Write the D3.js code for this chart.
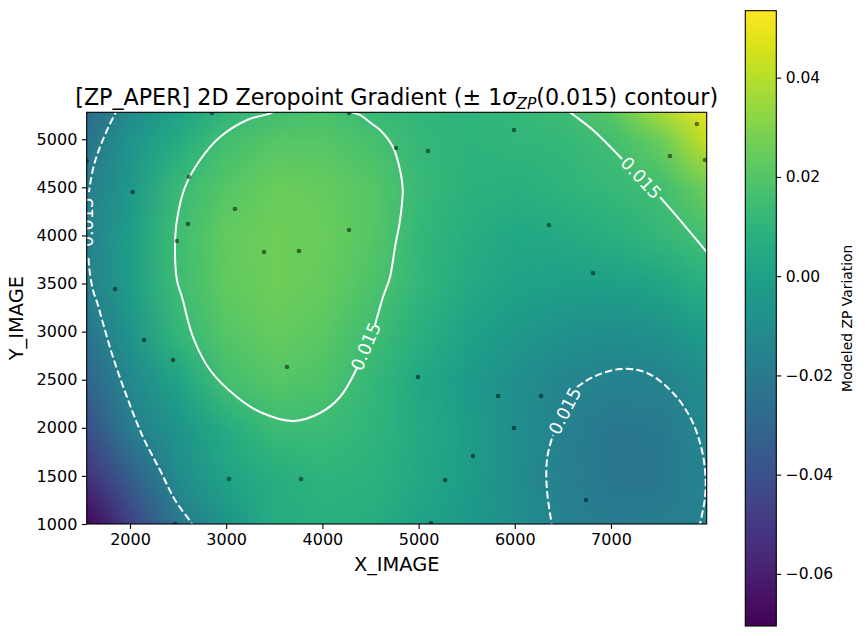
<!DOCTYPE html>
<html><head><meta charset="utf-8">
<script src="https://cdn.jsdelivr.net/npm/d3@7"></script>
<style>body{margin:0;background:#fff;} svg{display:block;font-family:"DejaVu Sans",sans-serif;}</style>
</head><body><svg id="chart" width="865" height="636"></svg>
<script>
// ---------------- data ----------------
const gridX = [1500,2000,2500,3000,3500,4000,4500,5000,5500,6000,6500,7000,7500,8000];
const gridY = [1000,1500,2000,2500,3000,3500,4000,4500,5000,5500];
// modeled ZP variation, one row per gridY value (bottom to top)
const zRow1000 = [-0.0732,-0.046,-0.020,-0.006,0.0065,0.008,0.007,0.001,-0.004,-0.009,-0.0165,-0.019,-0.018,-0.0145];
const zRow1500 = [-0.0541,-0.033,-0.010,0.002,0.007,0.010,0.009,0.004,-0.002,-0.010,-0.017,-0.021,-0.021,-0.0145];
const zRow2000 = [-0.0424,-0.018,-0.006,0.006,0.014,0.0142,0.0105,0.005,-0.002,-0.009,-0.0165,-0.021,-0.020,-0.012];
const zRow2500 = [-0.032,-0.012,0.002,0.0165,0.021,0.019,0.012,0.004,-0.003,-0.009,-0.014,-0.016,-0.0155,-0.009];
const zRow3000 = [-0.0238,-0.006,0.012,0.021,0.024,0.022,0.0155,0.008,0.001,-0.004,-0.008,-0.0095,-0.008,-0.002];
const zRow3500 = [-0.0182,-0.001,0.015,0.023,0.026,0.024,0.019,0.011,0.005,0.001,-0.001,-0.001,0.002,0.008];
const zRow4000 = [-0.0171,-0.001,0.0155,0.0235,0.026,0.025,0.021,0.012,0.007,0.004,0.005,0.008,0.012,0.0165];
const zRow4500 = [-0.019,-0.004,0.0135,0.021,0.025,0.024,0.021,0.013,0.009,0.008,0.010,0.0125,0.0155,0.026];
const zRow5000 = [-0.0249,-0.006,0.006,0.0165,0.021,0.021,0.0175,0.012,0.010,0.011,0.012,0.016,0.025,0.043];
const zRow5500 = [-0.0318,-0.014,-0.002,0.006,0.012,0.0165,0.010,0.010,0.010,0.0125,0.0165,0.025,0.045,0.078];
const zRows = [zRow1000,zRow1500,zRow2000,zRow2500,zRow3000,zRow3500,zRow4000,zRow4500,zRow5000,zRow5500];

const pointsX = [2852,4277,5991,7893,7977,7613,2028,2613,1550,3091,2603,2486,3393,3757,4277,5098,4765,6355,6813,1845,2146,2447,3632,3029,3778,2468,4994,5826,6273,5992,5566,5275,6740,5129];
const pointsY = [5272,5272,5096,5158,4784,4825,4451,4607,4773,4274,4119,3942,3827,3838,4056,4877,4909,4108,3609,3443,2913,2705,2632,1468,1468,1000,2528,2331,2331,1998,1707,1457,1249,1010];

// contour traces (level ±0.015), in data units
const contourNegLeftTop = [[1875,5324],[1771,5116],[1688,4919],[1626,4732],[1584,4524],[1574,4451]];
const contourNegLeftBottom = [[1569,3765],[1579,3640],[1615,3432],[1667,3277],[1719,3089],[1823,2736],[1969,2320],[2135,1904],[2312,1561],[2468,1249],[2645,1000],[2676,938]];
const contourPosLoopRight = [[4277,5345],[4308,5283],[4391,5252],[4516,5158],[4599,5096],[4734,4919],[4807,4680],[4835,4472],[4807,4160],[4755,3879],[4703,3568],[4630,3360],[4547,3069]];
const contourPosLoopLeft = [[3539,5345],[3487,5283],[3217,5200],[2936,5023],[2728,4784],[2572,4503],[2488,4160],[2468,3879],[2488,3536],[2541,3360],[2655,2944],[2832,2601],[3112,2320],[3352,2164],[3695,2071],[3975,2154],[4183,2320],[4360,2622]];
const contourPosCornerA = [[6522,5335],[6574,5283],[6813,5096],[7115,4794]];
const contourPosCornerB = [[7510,4399],[7718,4160],[7995,3827],[8050,3765]];
const contourNegLoopA = [[6397,938],[6384,1000],[6332,1385],[6338,1696],[6397,1925]];
const contourNegLoopB = [[6647,2424],[6813,2528],[7094,2611],[7375,2570],[7645,2362],[7822,2112],[7926,1842],[7978,1561],[7978,1281],[7926,1000],[7915,938]];
const contourSegments = [
  {neg:true, pts:contourNegLeftTop},{neg:true, pts:contourNegLeftBottom},
  {neg:false, pts:contourPosLoopRight},{neg:false, pts:contourPosLoopLeft},
  {neg:false, pts:contourPosCornerA},{neg:false, pts:contourPosCornerB},
  {neg:true, pts:contourNegLoopA},{neg:true, pts:contourNegLoopB}
];
const contourLabelText = "0.015";
const contourLabelX = [4453, 7312, 6522, 1553];
const contourLabelY = [2845, 4597, 2175, 4139];
const contourLabelAngle = [-67, 47, -63, -90];

const xTicks = [2000,3000,4000,5000,6000,7000];
const yTicks = [1000,1500,2000,2500,3000,3500,4000,4500,5000];
const cbTicks = [-0.06,-0.04,-0.02,0.00,0.02,0.04];
const xDomain = [1550, 7995];
const yDomain = [1000, 5280];
const cbDomain = [-0.0705, 0.0535];

// ---------------- layout ----------------
const svg = d3.select("#chart");
const L = 86.7, R = 706.7, T = 112.3, B = 524;
const x = d3.scaleLinear().domain(xDomain).range([L, R]);
const y = d3.scaleLinear().domain(yDomain).range([B, T]);
const color = d3.scaleSequential(d3.interpolateViridis).domain(cbDomain).clamp(true);

const defs = svg.append("defs");
defs.append("clipPath").attr("id","plotclip").append("rect")
  .attr("x",L).attr("y",T).attr("width",R-L).attr("height",B-T);

// heatmap image
const nx = gridX.length, ny = gridY.length;
const cvs = document.createElement("canvas");
cvs.width = nx; cvs.height = ny;
const ctx = cvs.getContext("2d");
const img = ctx.createImageData(nx, ny);
for (let j = 0; j < ny; j++) {
  const r = ny - 1 - j;
  for (let i = 0; i < nx; i++) {
    const c = d3.rgb(color(zRows[j][i]));
    const k = (r * nx + i) * 4;
    img.data[k] = c.r; img.data[k+1] = c.g; img.data[k+2] = c.b; img.data[k+3] = 255;
  }
}
ctx.putImageData(img, 0, 0);
const hx = (gridX[1]-gridX[0])/2, hy = (gridY[1]-gridY[0])/2;
const plot = svg.append("g").attr("clip-path","url(#plotclip)");
plot.append("image")
  .attr("href", cvs.toDataURL())
  .attr("x", x(gridX[0]-hx)).attr("y", y(gridY[ny-1]+hy))
  .attr("width", x(gridX[nx-1]+hx) - x(gridX[0]-hx))
  .attr("height", y(gridY[0]-hy) - y(gridY[ny-1]+hy))
  .attr("preserveAspectRatio","none");

// contours
const line = d3.line().x(d=>x(d[0])).y(d=>y(d[1])).curve(d3.curveCatmullRom.alpha(0.5));
plot.selectAll("path.contour").data(contourSegments).join("path")
  .attr("class","contour")
  .attr("d", d=>line(d.pts))
  .attr("fill","none").attr("stroke","#fff").attr("stroke-width",2)
  .attr("stroke-dasharray", d=>d.neg ? "7.4,3.2" : null);

// contour labels
plot.selectAll("text.clabel").data(contourLabelX).join("text")
  .attr("class","clabel")
  .attr("transform",(d,i)=>`translate(${x(d)},${y(contourLabelY[i])}) rotate(${contourLabelAngle[i]})`)
  .attr("text-anchor","middle").attr("dominant-baseline","central")
  .attr("fill","#fff").attr("font-size","17.5px")
  .text(contourLabelText);

// points
plot.selectAll("circle").data(pointsX).join("circle")
  .attr("cx", d=>x(d)).attr("cy",(d,i)=>y(pointsY[i])).attr("r",2.3)
  .attr("fill","#000").attr("fill-opacity",0.5);

// frame
svg.append("rect").attr("x",L).attr("y",T).attr("width",R-L).attr("height",B-T)
  .attr("fill","none").attr("stroke","#000").attr("stroke-width",1.1);

// axes
const xAxis = svg.append("g").attr("transform",`translate(0,${B})`)
  .call(d3.axisBottom(x).tickValues(xTicks).tickFormat(d3.format("d")).tickSize(4.9).tickPadding(4.5));
const yAxis = svg.append("g").attr("transform",`translate(${L},0)`)
  .call(d3.axisLeft(y).tickValues(yTicks).tickFormat(d3.format("d")).tickSize(4.9).tickPadding(4.5));
[xAxis,yAxis].forEach(a=>{
  a.select(".domain").remove();
  a.selectAll(".tick line").attr("stroke","#000").attr("stroke-width",1.1);
  a.selectAll(".tick text").attr("font-size","16px").attr("font-family","DejaVu Sans").attr("fill","#000");
});

// axis labels
svg.append("text").attr("x",(L+R)/2).attr("y",571).attr("text-anchor","middle")
  .attr("font-size","19.4px").attr("fill","#000").text("X_IMAGE");
svg.append("text").attr("transform",`translate(23,${(T+B)/2}) rotate(-90)`).attr("text-anchor","middle")
  .attr("font-size","19.4px").attr("fill","#000").text("Y_IMAGE");

// title
const title = svg.append("text").attr("x",(L+R)/2).attr("y",104.5).attr("text-anchor","middle")
  .attr("font-size","22.2px").attr("fill","#000");
title.append("tspan").text("[ZP_APER] 2D Zeropoint Gradient (\u00b1 1");
title.append("tspan").attr("font-style","italic").text("\u03c3");
title.append("tspan").attr("font-style","italic").attr("font-size","15.5px").attr("dy",4).text("ZP");
title.append("tspan").attr("dy",-4).text("(0.015) contour)");

// colorbar
const cbL = 745.3, cbW = 31, cbT = 10.7, cbB = 626;
const cy = d3.scaleLinear().domain(cbDomain).range([cbB, cbT]);
const grad = defs.append("linearGradient").attr("id","cbgrad")
  .attr("x1",0).attr("y1",1).attr("x2",0).attr("y2",0);
d3.range(0, 1.0001, 0.05).forEach(t=>{
  grad.append("stop").attr("offset", t).attr("stop-color", d3.interpolateViridis(t));
});
svg.append("rect").attr("x",cbL).attr("y",cbT).attr("width",cbW).attr("height",cbB-cbT)
  .attr("fill","url(#cbgrad)").attr("stroke","#000").attr("stroke-width",1.1);
const cbAxis = svg.append("g").attr("transform",`translate(${cbL+cbW},0)`)
  .call(d3.axisRight(cy).tickValues(cbTicks).tickFormat(d3.format(".2f")).tickSize(4.9).tickPadding(4.5));
cbAxis.select(".domain").remove();
cbAxis.selectAll(".tick line").attr("stroke","#000").attr("stroke-width",1.1);
cbAxis.selectAll(".tick text").attr("font-size","15.5px").attr("font-family","DejaVu Sans").attr("fill","#000");
svg.append("text").attr("transform",`translate(851.5,${(cbT+cbB)/2}) rotate(-90)`).attr("text-anchor","middle")
  .attr("font-size","13.9px").attr("fill","#000").text("Modeled ZP Variation");
</script></body></html>
